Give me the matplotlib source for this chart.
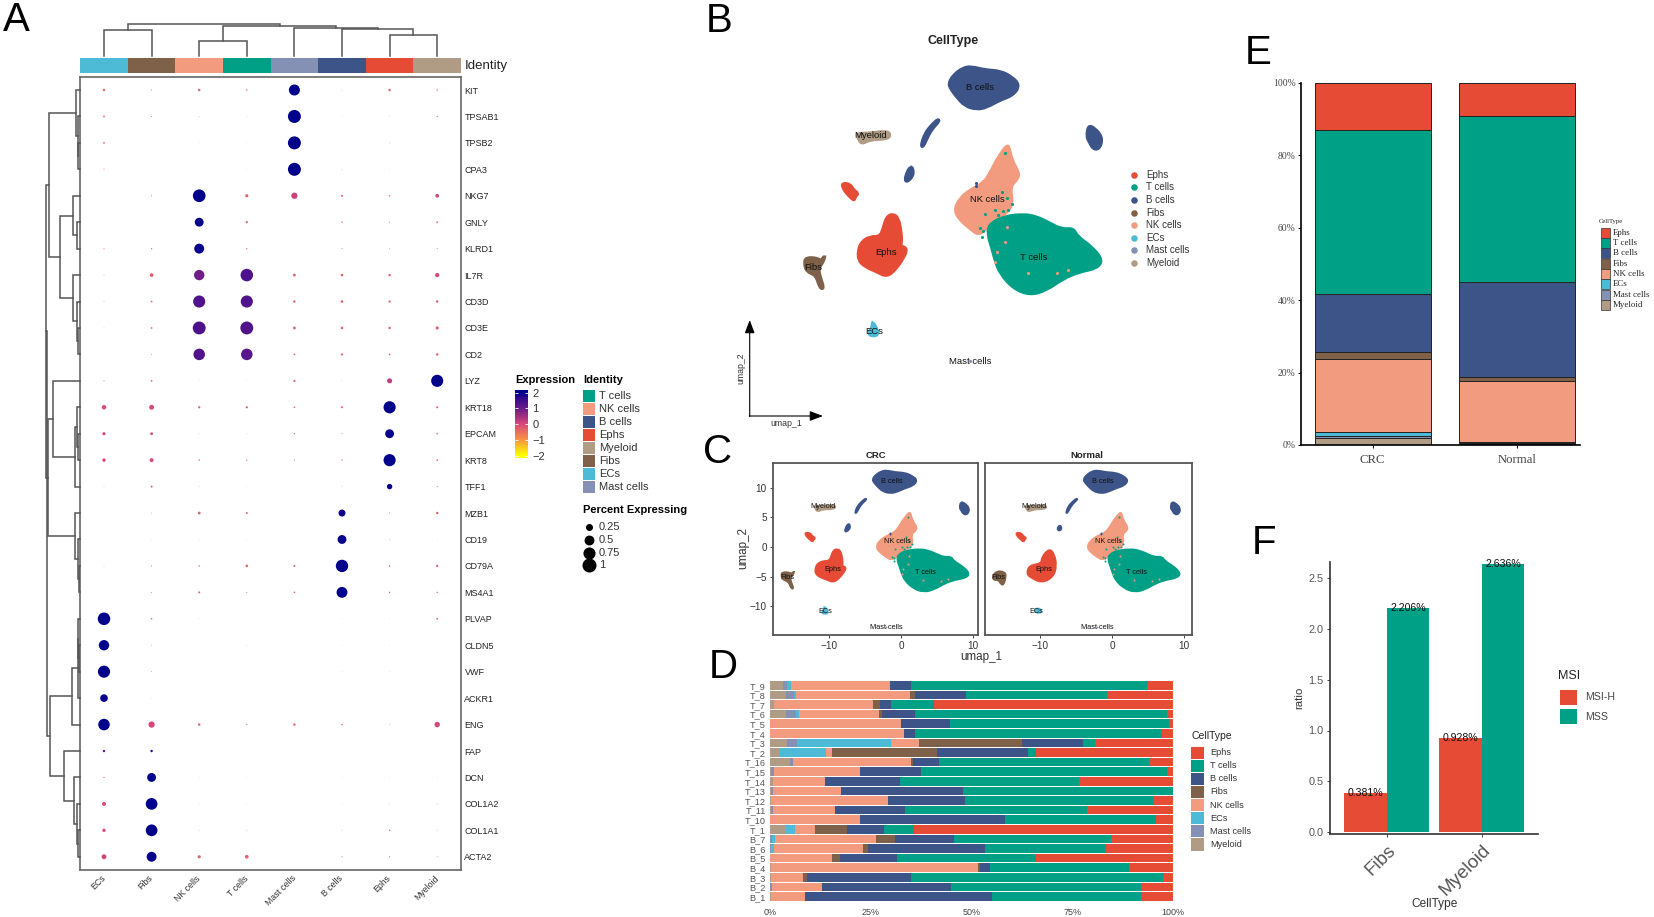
import numpy as np
import matplotlib
matplotlib.use("Agg")
import matplotlib.pyplot as plt
from matplotlib.colors import LinearSegmentedColormap, Normalize
from matplotlib.patches import Rectangle, PathPatch
from matplotlib.path import Path

W, H = 1654, 917
plt.rcParams['font.family'] = ['Liberation Sans', 'DejaVu Sans']

# ---------- palette ----------
CELLTYPES = ['Ephs', 'T cells', 'B cells', 'Fibs', 'NK cells', 'ECs', 'Mast cells', 'Myeloid']
PALETTE = {'Ephs': '#E64B35', 'T cells': '#00A087', 'B cells': '#3C5488', 'Fibs': '#7E6148',
           'NK cells': '#F39B7F', 'ECs': '#4DBBD5', 'Mast cells': '#8491B4', 'Myeloid': '#B09C85'}

# ---------- panel A data ----------
GENES = ['KIT', 'TPSAB1', 'TPSB2', 'CPA3', 'NKG7', 'GNLY', 'KLRD1', 'IL7R', 'CD3D', 'CD3E', 'CD2', 'LYZ',
         'KRT18', 'EPCAM', 'KRT8', 'TFF1', 'MZB1', 'CD19', 'CD79A', 'MS4A1', 'PLVAP', 'CLDN5', 'VWF',
         'ACKR1', 'ENG', 'FAP', 'DCN', 'COL1A2', 'COL1A1', 'ACTA2']
DOT_COLUMNS = ['ECs', 'Fibs', 'NK cells', 'T cells', 'Mast cells', 'B cells', 'Ephs', 'Myeloid']
PERCENT = [
    [.03, .005, .03, .01, .62, .003, .03, .01],
    [.015, .005, .002, .002, .86, .001, .002, .008],
    [.015, 0, .001, .001, .86, 0, .002, 0],
    [.005, 0, 0, .001, .86, .002, .001, 0],
    [0, .005, .82, .05, .2, .02, .01, .07],
    [0, 0, .4, .025, 0, .01, .005, .015],
    [.005, .008, .5, .008, 0, .005, .003, .005],
    [.003, .07, .55, .8, .04, .035, .03, .09],
    [.003, .015, .75, .75, .03, .035, .025, .03],
    [.002, .015, .85, .85, .04, .035, .03, .05],
    [0, .004, .68, .68, .015, .025, .015, .03],
    [.005, .015, .001, .001, .025, .002, .13, .75],
    [.1, .12, .025, .025, .012, .02, .75, .02],
    [.05, .04, .002, .002, .01, .005, .4, .012],
    [.06, .08, .01, .008, .006, .008, .75, .015],
    [.002, .02, .002, .001, 0, .002, .15, .006],
    [0, .003, .04, .02, 0, .25, .005, .03],
    [0, .001, .001, .001, 0, .4, .003, .001],
    [.002, .006, .01, .035, .02, .78, .012, .025],
    [0, .005, .02, .006, .012, .6, .01, .008],
    [.8, .012, .001, 0, 0, .001, .001, .015],
    [.55, .003, 0, .002, 0, .001, .001, 0],
    [.75, .003, 0, 0, 0, .001, .001, 0],
    [.3, .001, 0, 0, 0, 0, 0, 0],
    [.68, .2, .03, .007, .03, .012, .003, .15],
    [.03, .03, 0, 0, 0, 0, 0, 0],
    [.008, .4, .001, .001, 0, .001, .001, .001],
    [.08, .7, .001, .001, 0, .001, .002, .003],
    [.06, .7, .002, .003, 0, .002, .01, .003],
    [.12, .5, .05, .07, 0, .006, .006, .004],
]
L = -0.3  # low expression
EXPRESSION = [
    [L, L, L, L, 2, L, L, L],
    [L, L, L, L, 2, L, L, L],
    [L, L, L, L, 2, L, L, L],
    [L, L, L, L, 2, L, L, L],
    [L, L, 2, L, .1, L, L, 0],
    [L, L, 1.95, L, L, L, L, L],
    [L, L, 1.95, L, L, L, L, L],
    [L, L, .95, 1.35, L, L, L, 0],
    [L, L, 1.3, 1.3, L, L, L, L],
    [L, L, 1.35, 1.3, L, L, L, L],
    [L, L, 1.3, 1.2, L, L, L, L],
    [L, L, L, L, L, L, .2, 2],
    [0, 0, L, L, L, L, 2, L],
    [.1, 0, L, L, L, L, 1.95, L],
    [0, 0, L, L, L, L, 2, L],
    [L, L, L, L, L, L, 1.95, L],
    [L, L, L, L, L, 1.9, L, L],
    [L, L, L, L, L, 1.95, L, L],
    [L, L, L, L, L, 2, L, L],
    [L, L, L, L, L, 2, L, L],
    [2, L, L, L, L, L, L, L],
    [2, L, L, L, L, L, L, L],
    [2, L, L, L, L, L, L, L],
    [1.95, L, L, L, L, L, L, L],
    [2, .05, L, L, L, L, L, 0],
    [1.2, 1.7, L, L, L, L, L, L],
    [L, 2, L, L, L, L, L, L],
    [0, 2, L, L, L, L, L, L],
    [0, 2, L, L, L, L, L, L],
    [.05, 1.95, L, L, L, L, L, L],
]
COLUMN_MERGES = [(0, 1, 26), (2, 3, 15.3), (6, 7, 21), (5, 10, 27), (4, 11, 27.7), (9, 12, 30), (8, 13, 32)]
ROW_MERGES = [(2, 3, 2), (1, 30, 2.5), (0, 31, 4), (5, 6, 3.5), (4, 33, 7), (9, 10, 2.5), (8, 35, 3.5),
              (7, 36, 7), (34, 37, 19.7), (32, 38, 31.3), (13, 14, 2), (12, 40, 3), (41, 15, 5),
              (11, 42, 27.3), (18, 19, 1.5), (17, 44, 2.5), (16, 45, 5), (43, 46, 31.7), (39, 47, 34.3),
              (21, 22, 1.5), (20, 49, 1.8), (50, 23, 2), (51, 24, 8), (28, 29, 2.5), (27, 53, 3),
              (26, 54, 6), (25, 55, 16), (52, 56, 30), (48, 57, 32.7)]
IDENTITY_ORDER = ['T cells', 'NK cells', 'B cells', 'Ephs', 'Myeloid', 'Fibs', 'ECs', 'Mast cells']
PERCENT_BREAKS = [.25, .5, .75, 1]
PERCENT_LABELS = ['0.25', '0.5', '0.75', '1']

# ---------- UMAP cluster outlines (umap_1, umap_2) ----------
BIG_B_U = [-4.01, -3.57, -2.69, -1.96, -.78, .54, 1.56, 2.27, 1.71, .54, -.64, -1.52, -2.55, -3.28, -3.72]
BIG_B_V = [11.34, 12.15, 12.81, 12.9, 12.6, 12.51, 12.0, 11.25, 10.35, 9.91, 9.25, 9.07, 9.37, 10.2, 10.8]
RIGHT_B_U = [8.32, 8.9, 9.55, 9.34, 8.76, 8.4, 8.17]
RIGHT_B_V = [7.63, 7.36, 6.55, 5.56, 5.47, 6.16, 6.61]
STREAK_B_U = [-4.95, -4.81, -5.34, -5.78, -6.22, -6.42, -6.07, -5.48]
STREAK_B_V = [8.17, 8.02, 7.45, 6.76, 5.71, 5.8, 6.91, 7.66]
MID_B_U = [-7.24, -7.1, -7.19, -7.63, -7.83, -7.68, -7.45]
MID_B_V = [3.92, 3.47, 3.02, 2.57, 2.72, 3.32, 3.77]
MYELOID_U = [-12.09, -10.91, -9.45, -9.09, -9.45, -10.91, -11.65, -11.94]
MYELOID_V = [6.91, 6.91, 7.12, 6.76, 6.4, 6.37, 5.95, 6.46]
SMALL_EPHS_U = [-13.41, -12.67, -12.38, -11.94, -12.23, -12.32, -12.82, -13.2]
SMALL_EPHS_V = [2.42, 2.36, 1.82, 1.52, 1.22, .86, 1.37, 1.82]
MAIN_EPHS_U = [-11.94, -11.65, -10.91, -10.03, -9.74, -9.45, -8.86, -8.42, -8.21, -8.12, -8.27, -7.62, -7.98,
               -8.71, -9.45, -10.32, -11.35, -11.94]
MAIN_EPHS_V = [-3.57, -2.82, -2.37, -2.37, -1.62, -.57, -.33, -.72, -1.77, -2.82, -3.21, -3.42, -4.32, -5.36,
               -5.96, -5.51, -5.06, -4.47]
FIBS_U = [-16.7, -16.55, -15.46, -15.26, -14.88, -15.03, -15.46, -15.32, -14.97, -15.32, -15.67, -16.49]
FIBS_V = [-4.76, -4.23, -4.32, -4.62, -4.02, -4.62, -5.21, -5.96, -7.01, -7.01, -5.81, -5.51]
ECS_U = [-10.71, -10.33, -10.18, -10.77, -11.06, -10.68]
ECS_V = [-10.0, -10.6, -11.2, -11.29, -11.05, -10.45]
NK_U = [1.12, 1.33, 1.56, 2.24, 2.01, 1.42, 1.65, 1.12, .1, -.64, -1.37, -2.11, -2.99, -3.49, -2.99, -2.11,
        -.93, -.34, .24, .83]
NK_V = [5.77, 5.71, 4.52, 3.32, 2.72, 2.12, .62, -.27, -.87, -1.62, -2.22, -1.62, -.87, .03, 1.07, 1.82,
        2.42, 3.32, 4.52, 5.41]
T_U = [-.49, .83, 2.59, 3.77, 4.94, 5.97, 7.0, 7.35, 8.61, 9.58, 9.05, 7.58, 6.12, 4.65, 3.18, 1.71, .54, .1,
       -.2, -.49]
T_V = [-1.32, -.57, -.36, -.57, -1.17, -1.71, -1.62, -2.37, -3.27, -4.47, -5.21, -5.51, -6.11, -7.16, -7.61,
       -7.01, -5.66, -4.47, -3.27, -2.37]
NORMAL_FIBS_U = [-16.65, -16.1, -14.93, -14.79, -15.16, -15.53, -15.86, -16.47]
NORMAL_FIBS_V = [-4.94, -4.04, -4.21, -5.06, -6.46, -6.18, -5.5, -5.62]
NORMAL_ECS_U = [-10.74, -9.95, -9.81, -10.6]
NORMAL_ECS_V = [-10.39, -10.39, -11.07, -11.12]
NORMAL_MID_B_U = [-7.26, -6.98, -7.35, -7.67]
NORMAL_MID_B_V = [3.76, 3.09, 2.7, 3.09]
NORMAL_EPHS_U = [-11.9, -11.53, -9.81, -9.81, -8.74, -8.09, -7.72, -8.19, -9.81, -11.44]
NORMAL_EPHS_V = [-4.49, -3.09, -2.81, -1.69, -.28, -1.12, -3.09, -5.06, -6.07, -5.06]
# stray cells
T_STRAY_U = [.98, .68, 1.18, 1.56, 1.27, .77, .1, -.78, -1.22, -1.01, -.95, .35]
T_STRAY_V = [5.12, 1.67, 1.07, .56, .03, -.03, .03, -.33, -1.62, -2.43, -1.9, -.4]
NK_STRAY_U = [1.12, .98, .25, 3.03, 5.53, 6.56, .1]
NK_STRAY_V = [-1.47, -2.82, -3.72, -5.6, -5.66, -5.36, -4.6]
MAST_U = [-2.1]
MAST_V = [-13.5]
B_STRAY_U = [-1.6, -1.6]
B_STRAY_V = [2.42, 2.2]
LABEL_U = [-9.5, 3.47, -1.22, -15.9, -.55, -10.5, -2.1, -10.83]
LABEL_V = [-3.8, -4.23, 11.0, -5.15, .98, -10.9, -13.54, 6.76]

# ---------- panel D data ----------
SAMPLES = ['T_9', 'T_8', 'T_7', 'T_6', 'T_5', 'T_4', 'T_3', 'T_2', 'T_16', 'T_15', 'T_14', 'T_13', 'T_12',
           'T_11', 'T_10', 'T_1', 'B_7', 'B_6', 'B_5', 'B_4', 'B_3', 'B_2', 'B_1']
STACK_ORDER = ['Myeloid', 'Mast cells', 'ECs', 'NK cells', 'Fibs', 'B cells', 'T cells', 'Ephs']
SAMPLE_SHARES = [
    [3.3, .8, 1.1, 24.6, .1, 5.2, 58.5, 6.4],
    [4.0, 2.0, .4, 28.3, 1.2, 12.7, 35.0, 16.4],
    [1.0, 0, 0, 24.6, 1.8, 2.7, 10.7, 59.2],
    [4.0, 2.4, .9, 19.7, .8, 8.2, 62.6, 1.4],
    [0, 0, 0, 32.6, 0, 12.1, 54.2, 1.1],
    [0, 0, 0, 33.2, 0, 2.7, 61.4, 2.7],
    [4.1, 2.5, 23.4, 6.9, 25.7, 15.1, 3.0, 19.3],
    [2.5, .1, 11.3, 1.6, 26.0, 22.5, 2.1, 33.9],
    [5.0, .8, 0, 29.3, .4, 6.4, 52.1, 6.0],
    [.2, .9, 0, 21.2, 0, 15.1, 61.2, 1.4],
    [.7, 0, 0, 12.9, .1, 18.6, 44.3, 23.4],
    [.2, .5, 0, 17.0, 0, 30.3, 52.0, 0],
    [.3, 0, 0, 28.9, 0, 19.1, 46.9, 4.8],
    [.3, .5, 0, 15.3, 0, 17.4, 45.2, 21.3],
    [.1, 0, 0, 22.3, 0, 35.8, 37.7, 4.1],
    [4.0, 0, 2.2, 5.0, 8.0, 9.0, 7.6, 64.2],
    [0, .4, .8, 25.2, 4.5, 14.7, 39.0, 15.4],
    [0, .2, .8, 22.0, 1.3, 29.0, 30.0, 16.7],
    [0, 0, 0, 15.5, 1.8, 14.1, 34.5, 34.1],
    [.3, 0, 0, 51.2, .6, 2.5, 34.5, 10.9],
    [.3, 0, 0, 8.0, 1.0, 25.7, 62.4, 2.6],
    [.1, .3, 0, 12.4, 0, 32.0, 47.2, 8.0],
    [.3, 0, 0, 8.5, 0, 46.2, 37.0, 8.0],
]
D_TICKS = [0, 25, 50, 75, 100]

# ---------- panel E data ----------
GROUPS = ['CRC', 'Normal']
CRC_SHARES = [2.0, .5, 1.0, 20.3, 1.8, 16.0, 45.4, 13.0]
NORMAL_SHARES = [.2, .3, .2, 17.0, 1.0, 26.3, 46.0, 9.0]
E_TICKS = [0, 20, 40, 60, 80, 100]

# ---------- panel F data ----------
F_CATS = ['Fibs', 'Myeloid']
MSI_H = [.381, .928]
MSS = [2.206, 2.636]
MSI_LEVELS = ['MSI-H', 'MSS']
MSI_COLORS = ['#E64B35', '#00A087']
F_TICKS = [0, .5, 1, 1.5, 2, 2.5]

# ---------- helpers ----------
fig = plt.figure(figsize=(W / 100, H / 100), dpi=100, facecolor='white')


def axpx(x0, y0, x1, y1, **kw):
    return fig.add_axes([x0 / W, 1 - y1 / H, (x1 - x0) / W, (y1 - y0) / H], **kw)


def draw_tree(ax, n, merges, vertical):
    pos = list(range(n))
    hgt = [0.0] * n
    for a, b, h in merges:
        xs = [pos[a], pos[a], pos[b], pos[b]]
        ys = [hgt[a], h, h, hgt[b]]
        if vertical:
            ax.plot(xs, ys, color='#555555', lw=1.1, clip_on=False, solid_joinstyle='miter')
        else:
            ax.plot(ys, xs, color='#555555', lw=1.1, clip_on=False, solid_joinstyle='miter')
        pos.append((pos[a] + pos[b]) / 2)
        hgt.append(h)


def rounded_outline(u, v):
    """Closed path that uses the outline vertices as quadratic Bezier control points."""
    p = np.column_stack([u, v])
    nxt = np.roll(p, -1, axis=0)
    mid = (p + nxt) / 2
    verts = [mid[-1]]
    codes = [Path.MOVETO]
    for ctrl, end in zip(p, mid):
        verts += [ctrl, end]
        codes += [Path.CURVE3, Path.CURVE3]
    return Path(verts, codes)


ov = axpx(0, 0, W, H)
ov.set_xlim(0, W)
ov.set_ylim(H, 0)
ov.axis('off')
ov.set_zorder(10)
ov.patch.set_alpha(0)

for letter, x, y in [('A', 3, 20), ('B', 706, 21), ('C', 703, 452), ('D', 709, 667), ('E', 1245, 53), ('F', 1252, 543)]:
    ov.text(x, y, letter, fontsize=29, color='black', ha='left', va='center')

# ---------- panel A ----------
ax = axpx(80, 77, 461, 870)
col0, colstep = 104, 47.6
row0, rowstep = 90, 26.44
xlim_a = ((80 - col0) / colstep, (461 - col0) / colstep)
ylim_a = ((870 - row0) / rowstep, (77 - row0) / rowstep)
ax.set_xlim(*xlim_a)
ax.set_ylim(*ylim_a)
cmap = LinearSegmentedColormap.from_list('expr', [(0, '#FFFF00'), (.25, '#F89540'), (.5, '#D9487A'),
                                                  (.75, '#6A1B8A'), (.9, '#3A0C8C'), (1, '#00008B')])
norm = Normalize(-2, 2)
pct = np.array(PERCENT)
expr = np.array(EXPRESSION)
rr, cc = np.nonzero(pct)
DOT_AREA = 101.6
ax.scatter(cc, rr, s=DOT_AREA * pct[rr, cc], c=expr[rr, cc], cmap=cmap, norm=norm, linewidths=0, zorder=3)
ax.set_yticks(range(len(GENES)))
ax.set_yticklabels(GENES, fontsize=6.5, color='#222222')
ax.yaxis.tick_right()
ax.set_xticks(range(len(DOT_COLUMNS)))
ax.set_xticklabels(DOT_COLUMNS, fontsize=6.3, color='#333333', rotation=45, ha='right', va='center', rotation_mode='anchor')
ax.tick_params(axis='y', length=0, pad=2.5)
ax.tick_params(axis='x', length=0, pad=5)
for s in ax.spines.values():
    s.set_color('#666666')
    s.set_linewidth(1.2)

top = axpx(80, 20, 461, 56)
top.set_xlim(*xlim_a)
top.set_ylim(0, 36)
top.axis('off')
draw_tree(top, 8, COLUMN_MERGES, True)

left = axpx(40, 77, 80, 870)
left.set_xlim(40, 0)
left.set_ylim(*ylim_a)
left.axis('off')
draw_tree(left, 30, ROW_MERGES, False)

bar = axpx(80, 58, 461, 73)
bar.set_xlim(*xlim_a)
bar.set_ylim(0, 1)
bar.axis('off')
bar.bar(range(8), [1] * 8, width=1, color=[PALETTE[c] for c in DOT_COLUMNS])
ov.text(465, 66, 'Identity', fontsize=9.5, color='#222222', va='center')

# Expression legend
ov.text(515, 380, 'Expression', fontsize=8, fontweight='bold', va='center')
cb = axpx(515, 390, 528, 458)
v_top, v_bot = 2.17, -2.15
cb.imshow(np.linspace(v_top, v_bot, 200)[:, None], extent=(0, 1, v_bot, v_top), aspect='auto', cmap=cmap, norm=norm)
cb.set_xticks([])
cb.set_yticks([2, 1, 0, -1, -2])
cb.yaxis.tick_right()
cb.tick_params(axis='y', length=0, pad=3, labelsize=8, labelcolor='#333333')
cb.hlines([2, 1, 0, -1, -2], 0, .2, color='white', lw=.6)
cb.hlines([2, 1, 0, -1, -2], .8, 1, color='white', lw=.6)
for s in cb.spines.values():
    s.set_visible(False)

ov.text(583, 380, 'Identity', fontsize=8, fontweight='bold', va='center')
for i, name in enumerate(IDENTITY_ORDER):
    y = 396.3 + 12.9 * i
    ov.add_patch(Rectangle((583.3, y - 6), 12, 12, facecolor=PALETTE[name], edgecolor='none'))
    ov.text(599, y, name, fontsize=8, color='#333333', va='center')
ov.text(583, 510, 'Percent Expressing', fontsize=8, fontweight='bold', va='center')
for i, (p, lab) in enumerate(zip(PERCENT_BREAKS, PERCENT_LABELS)):
    y = 527 + 12.8 * i
    ov.scatter([589], [y], s=DOT_AREA * p, color='black', linewidths=0)
    ov.text(599, y, lab, fontsize=8, color='#333333', va='center')


# ---------- UMAP panels ----------
def draw_umap(a, outlines, fs, stray=3, edge=1.0):
    for name, u, v in outlines:
        a.add_patch(PathPatch(rounded_outline(u, v), facecolor=PALETTE[name], edgecolor=PALETTE[name], lw=edge))
    a.scatter(T_STRAY_U, T_STRAY_V, s=stray, color=PALETTE['T cells'], linewidths=0, zorder=3)
    a.scatter(NK_STRAY_U, NK_STRAY_V, s=stray, color=PALETTE['NK cells'], linewidths=0, zorder=3)
    a.scatter(B_STRAY_U, B_STRAY_V, s=stray, color=PALETTE['B cells'], linewidths=0, zorder=3)
    a.scatter(MAST_U, MAST_V, s=stray, color=PALETTE['Mast cells'], linewidths=0, zorder=3)
    for name, x, y in zip(CELLTYPES, LABEL_U, LABEL_V):
        a.text(x, y, name, fontsize=fs, color='#111111', ha='center', va='center', zorder=4)


CRC_OUTLINES = [('B cells', BIG_B_U, BIG_B_V), ('B cells', RIGHT_B_U, RIGHT_B_V), ('B cells', STREAK_B_U, STREAK_B_V),
                ('B cells', MID_B_U, MID_B_V), ('Myeloid', MYELOID_U, MYELOID_V), ('Ephs', SMALL_EPHS_U, SMALL_EPHS_V),
                ('Ephs', MAIN_EPHS_U, MAIN_EPHS_V), ('Fibs', FIBS_U, FIBS_V), ('ECs', ECS_U, ECS_V),
                ('NK cells', NK_U, NK_V), ('T cells', T_U, T_V)]
NORMAL_OUTLINES = [('B cells', BIG_B_U, BIG_B_V), ('B cells', RIGHT_B_U, RIGHT_B_V), ('B cells', STREAK_B_U, STREAK_B_V),
                   ('B cells', NORMAL_MID_B_U, NORMAL_MID_B_V), ('Myeloid', MYELOID_U, MYELOID_V),
                   ('Ephs', SMALL_EPHS_U, SMALL_EPHS_V), ('Ephs', NORMAL_EPHS_U, NORMAL_EPHS_V),
                   ('Fibs', NORMAL_FIBS_U, NORMAL_FIBS_V), ('ECs', NORMAL_ECS_U, NORMAL_ECS_V),
                   ('NK cells', NK_U, NK_V), ('T cells', T_U, T_V)]

# panel B
bx = axpx(720, 50, 1125, 400)
bx.set_xlim((720 - 993.9) / 11.353, (1125 - 993.9) / 11.353)
bx.set_ylim((210.3 - 400) / 11.133, (210.3 - 50) / 11.133)
bx.axis('off')
draw_umap(bx, CRC_OUTLINES, 6.8, stray=5, edge=2.4)
ov.text(953, 41, 'CellType', fontsize=9, fontweight='bold', ha='center', va='center', color='#222222')
for i, name in enumerate(CELLTYPES):
    y = 174.8 + 12.57 * i
    ov.scatter([1134], [y], s=22, color=PALETTE[name], linewidths=0)
    ov.text(1146, y, name, fontsize=7, color='#333333', va='center')
ov.annotate('', xy=(749.7, 320), xytext=(749.7, 416.5),
            arrowprops=dict(arrowstyle='-|>,head_width=0.3,head_length=0.8', color='black', lw=.8, shrinkA=0, shrinkB=0))
ov.annotate('', xy=(823, 416), xytext=(749.2, 416),
            arrowprops=dict(arrowstyle='-|>,head_width=0.3,head_length=0.8', color='black', lw=.8, shrinkA=0, shrinkB=0))
ov.text(741, 368, 'umap_2', fontsize=6.3, rotation=90, ha='center', va='center', color='#333333')
ov.text(786, 424, 'umap_1', fontsize=6.3, ha='center', va='center', color='#333333')

# panel C
px_u, px_v = 7.17, 5.93
for title, x0, x1, zero, outlines, tx in [('CRC', 773, 978, 901, CRC_OUTLINES, 875.7),
                                          ('Normal', 985, 1192, 1112, NORMAL_OUTLINES, 1087)]:
    c = axpx(x0, 463, x1, 635)
    c.set_xlim((x0 - zero) / px_u, (x1 - zero) / px_u)
    c.set_ylim((547 - 635) / px_v, (547 - 463) / px_v)
    draw_umap(c, outlines, 5.3, stray=2, edge=1.4)
    c.set_xticks([-10, 0, 10])
    if title == 'CRC':
        c.set_yticks([-10, -5, 0, 5, 10])
    else:
        c.set_yticks([])
    c.tick_params(labelsize=7.2, labelcolor='#333333', length=2.5, width=.7, color='#444444', pad=2)
    for s in c.spines.values():
        s.set_color('#555555')
        s.set_linewidth(1.3)
    ov.text(tx, 456, title, fontsize=6.8, fontweight='bold', ha='center', va='center', color='#222222')
ov.text(743, 548, 'umap_2', fontsize=8.4, rotation=90, ha='center', va='center', color='#333333')
ov.text(981, 657, 'umap_1', fontsize=8.4, ha='center', va='center', color='#333333')

# panel D
d = axpx(770, 680, 1173, 902)
d.set_xlim(0, 100)
d.set_ylim((902 - 685.3) / 9.6, (680 - 685.3) / 9.6)
shares = np.array(SAMPLE_SHARES)
rows = np.arange(len(SAMPLES))
left_edge = np.zeros(len(SAMPLES))
for j, name in enumerate(STACK_ORDER):
    d.barh(rows, shares[:, j], left=left_edge, height=.88, color=PALETTE[name], linewidth=0)
    left_edge += shares[:, j]
d.set_yticks(rows)
d.set_yticklabels(SAMPLES, fontsize=6.6, color='#555555')
d.set_xticks(D_TICKS)
d.set_xticklabels([f'{t}%' for t in D_TICKS], fontsize=6.5, color='#444444')
d.tick_params(length=0, pad=3)
d.tick_params(axis='x', pad=4)
for s in d.spines.values():
    s.set_visible(False)
ov.text(1191, 736, 'CellType', fontsize=7.5, color='#222222', va='center')
for i, name in enumerate(CELLTYPES):
    y = 752.7 + 13.09 * i
    ov.add_patch(Rectangle((1191, y - 6.2), 12.8, 12.4, facecolor=PALETTE[name], edgecolor='none'))
    ov.text(1210, y, name, fontsize=6.6, color='#333333', va='center')

# panel E
e = axpx(1300.7, 83, 1580, 445)
e.set_xlim((1300.7 - 1372.7) / 144.6, (1580 - 1372.7) / 144.6)
e.set_ylim(0, 100)
for i, vals in enumerate([CRC_SHARES, NORMAL_SHARES]):
    b = 0
    for name, v in zip(STACK_ORDER, vals):
        e.bar(i, v, bottom=b, width=.8, color=PALETTE[name], edgecolor='#222222', linewidth=.7)
        b += v
e.set_xticks(range(2))
e.set_xticklabels(GROUPS, family='Liberation Serif', fontsize=9.2, color='#444444')
e.set_yticks(E_TICKS)
e.set_yticklabels([f'{t}%' for t in E_TICKS], family='Liberation Serif', fontsize=6.9, color='#444444')
e.tick_params(length=2.5, width=.7, pad=1)
e.tick_params(axis='x', pad=4)
e.spines['top'].set_visible(False)
e.spines['right'].set_visible(False)
e.spines['left'].set_linewidth(1.2)
e.spines['bottom'].set_linewidth(1.2)
ov.text(1599, 221.7, 'CellType', family='Liberation Serif', fontsize=4.8, color='#222222', va='center')
for i, name in enumerate(CELLTYPES):
    y = 232.7 + 10.33 * i
    ov.add_patch(Rectangle((1600.7, y - 5.1), 9.4, 10.2, facecolor=PALETTE[name], edgecolor='#333333', linewidth=.5))
    ov.text(1613, y, name, family='Liberation Serif', fontsize=6.4, color='#222222', va='center')

# panel F
f = axpx(1330, 562, 1538, 834)
f.set_xlim(-.597, 1.593)
f.set_ylim((832 - 834) / 101.5, (832 - 562) / 101.5)
xpos = np.arange(2)
for vals, off, col in [(MSI_H, -.225, MSI_COLORS[0]), (MSS, .225, MSI_COLORS[1])]:
    f.bar(xpos + off, vals, width=.45, color=col, linewidth=0)
    for x, v in zip(xpos + off, vals):
        f.text(x, v, f'{v:.3f}%', fontsize=7.6, color='#111111', ha='center', va='center')
f.set_xticks(xpos)
f.set_xticklabels(F_CATS, fontsize=13.5, color='#555555', rotation=45, ha='right', va='top', rotation_mode='anchor')
f.set_yticks(F_TICKS)
f.set_yticklabels([f'{t:.1f}' for t in F_TICKS], fontsize=7.8, color='#555555')
f.tick_params(length=2.5, width=.7, color='#444444', pad=2)
f.tick_params(axis='x', pad=3)
f.spines['top'].set_visible(False)
f.spines['right'].set_visible(False)
f.spines['left'].set_color('#333333')
f.spines['bottom'].set_color('#333333')
f.spines['left'].set_linewidth(1.2)
f.spines['bottom'].set_linewidth(1.2)
ov.text(1299, 698, 'ratio', fontsize=8.2, rotation=90, ha='center', va='center', color='#333333')
ov.text(1435, 904, 'CellType', fontsize=8.6, ha='center', va='center', color='#333333')
ov.text(1558, 676, 'MSI', fontsize=9, va='center', color='#222222')
for i, (name, col) in enumerate(zip(MSI_LEVELS, MSI_COLORS)):
    y = 697.5 + 19.3 * i
    ov.add_patch(Rectangle((1560.3, y - 7.7), 16.4, 15.4, facecolor=col, edgecolor='none'))
    ov.text(1585, y, name, fontsize=7.6, color='#444444', va='center')

fig.savefig('out.png', dpi=100, facecolor='white')
